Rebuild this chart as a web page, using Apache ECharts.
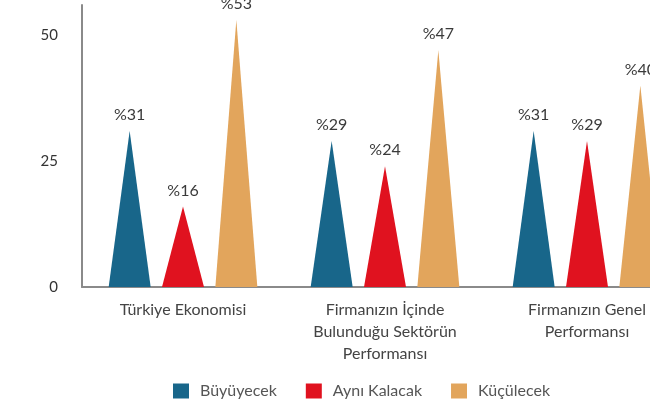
<!DOCTYPE html>
<html>
<head>
<meta charset="utf-8">
<script src="https://cdn.jsdelivr.net/npm/echarts@6/dist/echarts.min.js"></script>
<style>
html,body{margin:0;padding:0;background:#fff;overflow:hidden;}
#c{width:650px;height:401px;}
</style>
</head>
<body>
<div id="c"></div>
<script>
var categories = ['Türkiye Ekonomisi', 'Firmanızın İçinde\nBulunduğu Sektörün\nPerformansı', 'Firmanızın Genel\nPerformansı'];
var seriesNames = ['Büyüyecek', 'Aynı Kalacak', 'Küçülecek'];
var buyuyecek = [31, 29, 31];
var ayniKalacak = [16, 24, 29];
var kucurecek = [53, 47, 40];
var yTicks = [0, 25, 50];
var colors = ['#18668a', '#e0121f', '#e2a55c'];

var font = 'Lato';
var chart = echarts.init(document.getElementById('c'));
function mk(name, data, color) {
  return {
    name: name,
    type: 'pictorialBar',
    symbol: 'triangle',
    barWidth: 42,
    barGap: '27%',
    itemStyle: { color: color },
    label: {
      show: true,
      position: 'top',
      distance: 8,
      formatter: function (p) { return '%' + p.value; },
      color: '#3a3a3a',
      fontFamily: font,
      fontSize: 16
    },
    data: data
  };
}
chart.setOption({
  animation: false,
  backgroundColor: '#fff',
  color: colors,
  grid: { left: 82, top: 5, width: 606, height: 282, containLabel: false, outerBoundsMode: 'none' },
  legend: {
    data: seriesNames,
    left: 168,
    top: 378,
    icon: 'rect',
    itemWidth: 16,
    itemHeight: 15,
    itemGap: 29,
    textStyle: { color: '#555', fontFamily: font, fontSize: 16, padding: [0, 0, 0, 6] }
  },
  xAxis: {
    type: 'category',
    data: categories,
    axisLine: { lineStyle: { color: '#8a8a8a', width: 2 } },
    axisTick: { show: false },
    axisLabel: { color: '#444', fontFamily: font, fontSize: 16, lineHeight: 22, margin: 12, interval: 0 }
  },
  yAxis: {
    type: 'value',
    min: 0,
    max: 56,
    interval: 25,
    splitLine: { show: false },
    axisTick: { show: false },
    axisLine: { show: true, lineStyle: { color: '#8a8a8a', width: 2 } },
    axisLabel: {
      color: '#333',
      fontFamily: font,
      fontSize: 15,
      margin: 24,
      formatter: function (v) { return yTicks.indexOf(v) >= 0 ? String(v) : ''; }
    }
  },
  series: [
    mk(seriesNames[0], buyuyecek, colors[0]),
    mk(seriesNames[1], ayniKalacak, colors[1]),
    mk(seriesNames[2], kucurecek, colors[2])
  ]
});
</script>
</body>
</html>
